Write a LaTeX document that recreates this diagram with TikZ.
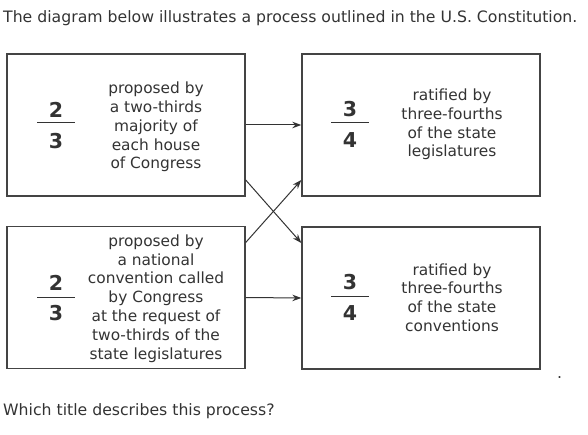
\documentclass[tikz,border=0pt]{standalone}
\usepackage{fontspec}
\setmainfont{DejaVu Sans}
\usetikzlibrary{arrows.meta}
\definecolor{ink}{HTML}{333333}
\definecolor{edge}{HTML}{444444}
\tikzset{
  box/.style={draw=edge, line width=1.4pt, minimum width=238pt, minimum height=142pt, inner sep=0pt},
  body/.style={text=ink, align=center, font=\fontsize{15.4}{18.8}\selectfont, inner sep=0pt},
  digit/.style={text=ink, font=\fontsize{20.5}{20.5}\selectfont\bfseries, inner sep=0pt},
  bar/.style={draw=ink, line width=1pt},
  plain/.style={text=ink, font=\fontsize{15.7}{18}\selectfont, inner sep=0pt, anchor=west},
  conn/.style={draw=ink, line width=1pt, -{Stealth[length=9pt,width=6.5pt]}}
}
\begin{document}
\begin{tikzpicture}[x=1pt,y=-1pt]
\useasboundingbox (0,0) rectangle (588,435);
\node[plain] (title) at (3,18) {The diagram below illustrates a process outlined in the U.S. Constitution.};
\node[plain] (question) at (3,411) {Which title describes this process?};
\node[plain] (dot) at (557,378) {.};

\node[box] (A) at (126,125) {};
\node[box] (B) at (421,125) {};
\node[box] (C) at (126,297.5) {};
\node[box] (D) at (421,298) {};

% fractions
\node[digit] (An) at (56,110) {2};
\node[digit] (Ad) at (56,141) {3};
\draw[bar] (37,123) -- (75,123);
\node[digit] (Bn) at (350,109) {3};
\node[digit] (Bd) at (350,140) {4};
\draw[bar] (331,123) -- (369,123);
\node[digit] (Cn) at (56,283) {2};
\node[digit] (Cd) at (56,313) {3};
\draw[bar] (37,297) -- (75,297);
\node[digit] (Dn) at (350,282) {3};
\node[digit] (Dd) at (350,313) {4};
\draw[bar] (331,296) -- (369,296);

% texts
\node[body] (At) at (156,127) {proposed by\\a two-thirds\\majority of\\each house\\of Congress};
\node[body] (Bt) at (452,124.5) {ratified by\\three-fourths\\of the state\\legislatures};
\node[body] (Ct) at (156,298.5) {proposed by\\a national\\convention called\\by Congress\\at the request of\\two-thirds of the\\state legislatures};
\node[body] (Dt) at (452,297.5) {ratified by\\three-fourths\\of the state\\conventions};

% connectors
\draw[conn] (A.east) -- (B.west);
\draw[conn] (C.east) -- (D.west);
\draw[conn] ([yshift=-55pt]A.east) -- ([yshift=55pt]D.west);
\draw[conn] ([yshift=55pt]C.east) -- ([yshift=-55pt]B.west);
\end{tikzpicture}
\end{document}
